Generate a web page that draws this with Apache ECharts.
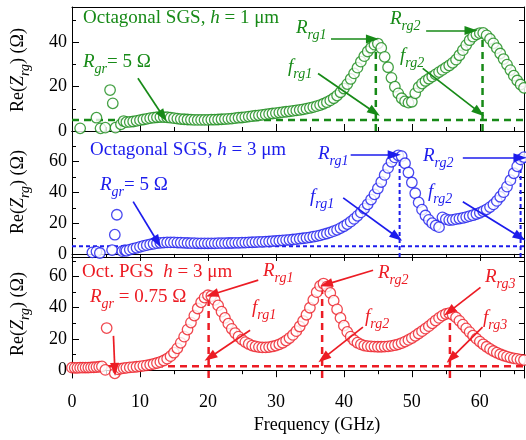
<!DOCTYPE html>
<html>
<head>
<meta charset="utf-8">
<script src="https://cdn.jsdelivr.net/npm/echarts@6/dist/echarts.min.js"></script>
<style>
html,body{margin:0;padding:0;background:#fff}
#chart{width:526px;height:440px}
</style>
</head>
<body>
<div id="chart"></div>
<script>
// ---- data ------------------------------------------------------------
const freq = [8,8.5,9,9.5,10,10.5,11,11.5,12,12.5,13,13.5,14,14.5,15,15.5,16,16.5,17,17.5,
  18,18.5,19,19.5,20,20.5,21,21.5,22,22.5,23,23.5,24,24.5,25,25.5,26,26.5,27,27.5,
  28,28.5,29,29.5,30,30.5,31,31.5,32,32.5,33,33.5,34,34.5,35,35.5,36,36.5,37,37.5,
  38,38.5,39,39.5,40,40.5,41,41.5,42,42.5,43,43.5,44,44.5,45,45.5,46,46.5,47,47.5,
  48,48.5,49,49.5,50,50.5,51,51.5,52,52.5,53,53.5,54,54.5,55,55.5,56,56.5,57,57.5,
  58,58.5,59,59.5,60,60.5,61,61.5,62,62.5,63,63.5,64,64.5,65,65.5,66,66.5];

// Octagonal SGS, h = 1 um
const sgs1Low = [[1.2,1.2],[3.6,6.0],[4.2,1.2],[4.9,1.5],[5.6,18.5],[6.0,12.5],[6.4,1.5],[7.2,3.0],[7.6,4.5]];
const sgs1Values = [4.0,4.1,4.3,4.6,4.9,5.2,5.5,5.8,6.0,6.2,6.3,6.3,6.2,6.0,5.8,5.6,5.4,5.3,5.2,5.1,
  5.0,5.0,5.0,5.0,5.0,5.1,5.1,5.2,5.3,5.4,5.5,5.6,5.8,6.0,6.1,6.3,6.5,6.7,6.9,7.1,
  7.3,7.5,7.7,7.9,8.1,8.3,8.5,8.7,8.9,9.1,9.3,9.5,9.8,10.1,10.4,10.8,11.2,11.7,12.3,13.0,
  13.8,14.8,16.0,17.5,19.2,21.2,23.5,26.0,28.6,31.3,33.8,35.9,37.6,39.0,39.5,37.5,33.5,28.8,24.0,20.0,
  17.0,14.8,13.4,12.8,13.2,17.0,19.8,21.4,22.6,23.6,24.6,25.6,26.6,27.6,28.6,29.6,30.8,32.2,34.2,36.5,
  38.8,41.0,42.6,43.6,44.2,44.3,43.2,41.6,39.6,37.4,35.0,32.5,30.0,27.5,25.0,22.8,21.0,19.5];

// Octagonal SGS, h = 3 um
const sgs3Low = [[3.0,1.0],[3.6,1.5],[4.1,0.6],[5.9,2.5],[6.3,12.5],[6.6,25.5],[7.4,1.8],[7.8,2.4]];
const sgs3Values = [2.0,2.8,3.4,4.0,4.6,5.2,5.7,6.2,6.6,7.0,7.2,7.4,7.5,7.5,7.5,7.4,7.3,7.2,7.1,7.0,
  7.0,6.9,6.9,6.9,6.9,6.9,6.9,7.0,7.0,7.0,7.1,7.1,7.2,7.2,7.3,7.4,7.5,7.6,7.7,7.8,
  7.9,8.0,8.1,8.3,8.4,8.6,8.8,9.0,9.2,9.4,9.6,9.9,10.2,10.5,10.8,11.2,11.6,12.1,12.7,13.3,
  14.0,14.8,15.7,16.8,18.0,19.4,21.0,22.8,24.8,27.0,29.5,32.3,35.4,38.8,42.6,46.8,51.4,56.0,60.0,62.8,
  64.2,63.6,59.0,53.0,46.5,39.5,33.5,28.8,25.0,22.2,20.0,18.4,17.4,23.8,22.6,22.0,22.2,22.6,23.0,23.4,
  24.0,24.6,25.2,26.0,26.8,27.8,29.0,30.5,32.2,34.5,37.2,40.2,43.8,48.0,52.5,57.0,61.5,63.0];

// Oct. PGS, h = 3 um
const pgsLow = [[0,1.6],[0.4,1.5],[0.8,1.5],[1.2,1.6],[1.6,1.6],[2.0,1.7],[2.4,1.7],[2.8,1.8],[3.2,1.9],
  [3.6,2.0],[4.0,2.2],[4.4,2.4],[4.9,0.2],[5.1,27.0],[6.3,-2.0],[6.8,0.5],[7.2,1.0],[7.6,1.3]];
const pgsValues = [1.5,1.8,2.0,2.2,2.5,2.8,3.1,3.5,4.0,4.6,5.3,6.2,7.4,9.0,11.2,14.0,17.5,21.5,26.0,30.5,
  35.0,39.5,43.5,46.5,48.0,47.5,45.0,41.5,37.5,33.5,29.8,26.5,23.8,21.5,19.6,18.0,16.8,15.8,15.2,14.8,
  14.6,14.6,14.8,15.2,15.8,16.6,17.6,19.0,20.6,22.6,25.0,28.0,31.5,35.5,40.0,45.0,50.0,54.0,55.5,53.5,
  49.5,44.5,39.0,33.5,28.5,24.5,21.5,19.2,17.6,16.5,15.8,15.4,15.2,15.1,15.0,15.0,15.1,15.3,15.6,16.0,
  16.6,17.4,18.3,19.4,20.6,22.0,23.5,25.0,26.6,28.2,30.0,31.8,33.5,35.0,36.0,36.5,35.5,33.8,31.6,29.2,
  26.8,24.4,22.2,20.2,18.3,16.6,15.0,13.6,12.3,11.2,10.2,9.4,8.7,8.1,7.6,7.2,6.8,6.5];

// baselines (R_gr level) and resonance peaks [f_rg, R_rg]
const sgs1Base = 5, sgs3Base = 5, pgsBase = 2.5;
const sgs1Peaks = [[44.7,39.5],[60.4,44.3]];
const sgs3Peaks = [[48.2,64.3],[66.0,62.0]];
const pgsPeaks = [[20.1,48.0],[36.8,55.5],[55.6,36.5]];

// annotation arrows, [from, to] in axis units
const sgs1Arrows = [[[9.7,23.8],[13.4,6.7]],[[38.1,41.6],[44.2,41.6]],[[36.2,26],[44.5,8.5]],
  [[52.1,45.4],[58.7,45.4]],[[51.6,28.3],[59.9,8.5]]];
const sgs3Arrows = [[[9.0,34],[12.6,7.8]],[[41.0,64.6],[47.4,64.6]],[[39.9,36.5],[47.8,11]],
  [[57.5,62.6],[65.9,62.6]],[[57.5,34],[65.9,11]]];
const pgsArrows = [[[6.1,22],[6.3,0.5]],[[27.4,57.7],[20.6,48.5]],[[26.2,25.6],[20.3,8.3]],
  [[44.3,64],[37.4,55]],[[42.8,27.6],[37.0,7.7]],[[60.1,53],[55.5,37.5]],[[60.4,27.6],[55.8,7.7]]];

// axis ticks
const xMajor = [0,10,20,30,40,50,60];
const xMinor = [5,15,25,35,45,55,65];
const xMax = 66.5;

// ---- styling -----------------------------------------------------------
const FONT = 'Liberation Serif';
const GREEN = '#178a17', BLUE = '#1c1cec', RED = '#ec1c24';

const panels = [
  {top:7, height:124, min:0, max:56, major:[0,20,40], minor:[10,30,50], right:[0,10,20,30,40,50],
   xTick:'inside', color:GREEN, low:sgs1Low, values:sgs1Values, base:sgs1Base, peaks:sgs1Peaks,
   arrows:sgs1Arrows, dash:[7,5], dashW:2.5},
  {top:131, height:126, min:-2, max:80, major:[0,20,40,60], minor:[10,30,50,70], right:[0,10,20,30,40,50,60,70,80],
   xTick:'outside', color:BLUE, low:sgs3Low, values:sgs3Values, base:sgs3Base, peaks:sgs3Peaks,
   arrows:sgs3Arrows, dash:[4,3], dashW:2},
  {top:257, height:121, min:-5, max:72.5, major:[0,20,40,60], minor:[10,30,50,70], right:[0,10,20,30,40,50,60,70],
   xTick:'outside', color:RED, low:pgsLow, values:pgsValues, base:pgsBase, peaks:pgsPeaks,
   arrows:pgsArrows, dash:[7,5], dashW:2.5, labels:true}
];

const grid = [], xAxis = [], yAxis = [], series = [];
const lineBlack = {show:true, lineStyle:{color:'#000', width:1}};

panels.forEach((p, i) => {
  grid.push({left:72, width:452, top:p.top, height:p.height, containLabel:false});
  // bottom axis (major), bottom axis (minor), top frame line
  xAxis.push({gridIndex:i, type:'value', min:0, max:xMax, position:'bottom',
    axisLine:lineBlack,
    axisTick:{show:true, inside:p.xTick === 'inside', length:7, customValues:xMajor, lineStyle:{color:'#000'}},
    axisLabel:{show:!!p.labels, customValues:xMajor, margin:15, fontFamily:FONT, fontSize:18, color:'#000'},
    splitLine:{show:false}});
  xAxis.push({gridIndex:i, type:'value', min:0, max:xMax, position:'bottom',
    axisLine:{show:false},
    axisTick:{show:true, inside:p.xTick === 'inside', length:4, customValues:xMinor, lineStyle:{color:'#000'}},
    axisLabel:{show:false}, splitLine:{show:false}});
  xAxis.push({gridIndex:i, type:'value', min:0, max:xMax, position:'top',
    axisLine:{show:true, onZero:false, lineStyle:{color:'#000', width:1}},
    axisTick:{show:false}, axisLabel:{show:false}, splitLine:{show:false}});
  // left axis (major), left axis (minor), right frame with ticks
  yAxis.push({gridIndex:i, type:'value', min:p.min, max:p.max, position:'left',
    axisLine:{show:true, onZero:false, lineStyle:{color:'#000', width:1}},
    axisTick:{show:true, inside:true, length:7, customValues:p.major, lineStyle:{color:'#000'}},
    axisLabel:{show:true, customValues:p.major, margin:5, fontFamily:FONT, fontSize:18, color:'#000'},
    splitLine:{show:false}});
  yAxis.push({gridIndex:i, type:'value', min:p.min, max:p.max, position:'left',
    axisLine:{show:false, onZero:false},
    axisTick:{show:true, inside:true, length:4, customValues:p.minor, lineStyle:{color:'#000'}},
    axisLabel:{show:false}, splitLine:{show:false}});
  yAxis.push({gridIndex:i, type:'value', min:p.min, max:p.max, position:'right',
    axisLine:{show:true, onZero:false, lineStyle:{color:'#000', width:1}},
    axisTick:{show:true, inside:true, length:5, customValues:p.right, lineStyle:{color:'#000'}},
    axisLabel:{show:false}, splitLine:{show:false}});

  const xi = 3 * i, yi = 3 * i;
  const dashStyle = {color:p.color, width:p.dashW, type:p.dash};

  // R_gr level line
  series.push({type:'line', xAxisIndex:xi, yAxisIndex:yi, data:[[0,p.base],[xMax,p.base]],
    showSymbol:false, lineStyle:dashStyle, z:1, silent:true, animation:false});
  // vertical drops at each resonance
  p.peaks.forEach(pk => {
    series.push({type:'line', xAxisIndex:xi, yAxisIndex:yi, data:[[pk[0],p.min],[pk[0],pk[1]]],
      showSymbol:false, lineStyle:dashStyle, z:1, silent:true, animation:false});
  });
  // measured Re(Z_rg)
  const pts = p.low.concat(freq.map((f, k) => [f, p.values[k]]));
  series.push({type:'scatter', xAxisIndex:xi, yAxisIndex:yi, data:pts, symbol:'circle',
    symbolSize:10.5, clip:false, z:2, silent:true, animation:false,
    itemStyle:{color:'#fff', borderColor:p.color, borderWidth:1.3},
    markLine:{silent:true, animation:false, symbol:['none','triangle'], symbolSize:[9,13],
      label:{show:false}, lineStyle:{color:p.color, width:1.7, type:'solid'},
      emphasis:{disabled:true},
      data:p.arrows.map(a => [{coord:a[0]}, {coord:a[1]}])}});
});

// ---- text --------------------------------------------------------------
function rich(color, size) {
  const sub = Math.round(size * 0.76);
  return {
    n:{fill:color, fontFamily:FONT, fontSize:size, lineHeight:32},
    i:{fill:color, fontFamily:FONT, fontSize:size, fontStyle:'italic', lineHeight:32},
    s:{fill:color, fontFamily:FONT, fontSize:sub, fontStyle:'italic', lineHeight:32, padding:[14,0,0,0]}
  };
}
function txt(x, y, text, color, opts) {
  opts = opts || {};
  return {type:'text', x:x, y:y, rotation:opts.rotation || 0, z:100, silent:true,
    style:{text:text, rich:rich(color, opts.size || 19), fill:color, fontFamily:FONT,
      fontSize:opts.size || 19, align:opts.align || 'left', verticalAlign:'middle'}};
}

const graphic = [
  // top panel
  txt(83, 18, '{n|Octagonal SGS, }{i|h}{n| = 1 μm}', GREEN),
  txt(83, 62, '{i|R}{s|gr}{n|= 5 Ω}', GREEN),
  txt(296, 28, '{i|R}{s|rg1}', GREEN),
  txt(288, 67, '{i|f}{s|rg1}', GREEN),
  txt(390, 19, '{i|R}{s|rg2}', GREEN),
  txt(400, 56, '{i|f}{s|rg2}', GREEN),
  // middle panel
  txt(90, 150, '{n|Octagonal SGS, }{i|h}{n| = 3 μm}', BLUE),
  txt(100, 185, '{i|R}{s|gr}{n|= 5 Ω}', BLUE),
  txt(318, 154, '{i|R}{s|rg1}', BLUE),
  txt(310, 197, '{i|f}{s|rg1}', BLUE),
  txt(423, 156, '{i|R}{s|rg2}', BLUE),
  txt(428, 192, '{i|f}{s|rg2}', BLUE),
  // bottom panel
  txt(82, 272, '{n|Oct. PGS  }{i|h}{n| = 3 μm}', RED),
  txt(90, 297, '{i|R}{s|gr}{n| = 0.75 Ω}', RED),
  txt(263, 271, '{i|R}{s|rg1}', RED),
  txt(252, 308, '{i|f}{s|rg1}', RED),
  txt(378, 273, '{i|R}{s|rg2}', RED),
  txt(365, 317, '{i|f}{s|rg2}', RED),
  txt(485, 277, '{i|R}{s|rg3}', RED),
  txt(483, 318, '{i|f}{s|rg3}', RED),
  // axis titles
  txt(18, 70, '{n|Re(}{i|Z}{s|rg}{n|) (Ω)}', '#000', {rotation:Math.PI / 2, align:'center', size:18}),
  txt(18, 192, '{n|Re(}{i|Z}{s|rg}{n|) (Ω)}', '#000', {rotation:Math.PI / 2, align:'center', size:18}),
  txt(18, 314, '{n|Re(}{i|Z}{s|rg}{n|) (Ω)}', '#000', {rotation:Math.PI / 2, align:'center', size:18}),
  txt(317, 425, '{n|Frequency (GHz)}', '#000', {align:'center', size:18})
];

const chart = echarts.init(document.getElementById('chart'), null, {renderer:'canvas'});
chart.setOption({
  backgroundColor:'#fff',
  animation:false,
  grid:grid, xAxis:xAxis, yAxis:yAxis, series:series, graphic:graphic
});
</script>
</body>
</html>
